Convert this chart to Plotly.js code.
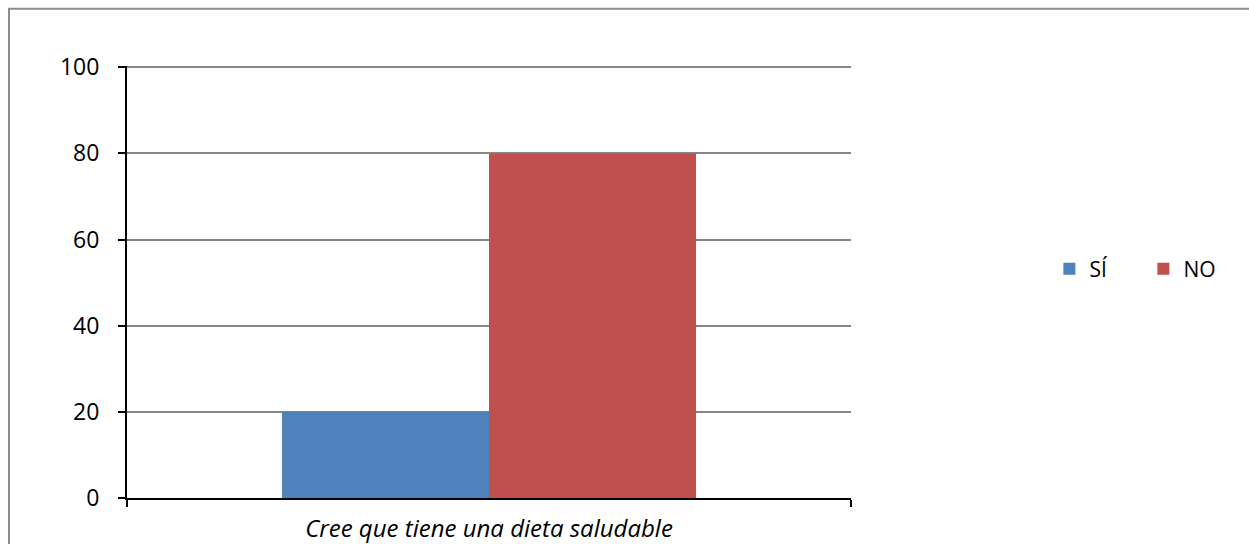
<!DOCTYPE html>
<html>
<head>
<meta charset="utf-8">
<script src="https://cdn.plot.ly/plotly-3.0.1.min.js"></script>
<style>
  html, body { margin: 0; padding: 0; background: #fff; }
  #chart { width: 1249px; height: 544px; }
</style>
</head>
<body>
<div id="chart"></div>
<script>
// Survey answers, in percent
const categories = ["Cree que tiene una dieta saludable"];
const seriesNames = ["SÍ", "NO"];
const siValues = [20];
const noValues = [80];
const yTicks = [0, 20, 40, 60, 80, 100];

const FONT = "'Open Sans', Lato, sans-serif";

const traces = [
  { type: "bar", name: seriesNames[0], x: categories, y: siValues,
    marker: { color: "#4F81BD" }, hoverinfo: "x+y+name" },
  { type: "bar", name: seriesNames[1], x: categories, y: noValues,
    marker: { color: "#C0504D" }, hoverinfo: "x+y+name" }
];

const layout = {
  width: 1249, height: 544,
  margin: { l: 127, r: 398, t: 66, b: 46, pad: 0 },
  paper_bgcolor: "#fff", plot_bgcolor: "#fff",
  font: { family: FONT, size: 23, color: "#000" },
  barmode: "group",
  bargap: 0.428,
  bargroupgap: 0,
  showlegend: true,
  legend: {
    orientation: "h",
    x: 1.274, xanchor: "left",
    y: 0.53, yanchor: "middle",
    font: { family: FONT, size: 21, color: "#000" },
    entrywidth: 49, entrywidthmode: "pixels",
    bgcolor: "rgba(0,0,0,0)"
  },
  xaxis: {
    type: "category",
    range: [-0.5, 0.5],
    showline: true, linecolor: "#000", linewidth: 2,
    ticks: "outside", tickson: "boundaries", ticklen: 7, tickwidth: 2, tickcolor: "#000",
    tickfont: { family: FONT, size: 24, style: "italic", color: "#000" },
    ticklabelstandoff: 8,
    showgrid: false, zeroline: false, fixedrange: true
  },
  yaxis: {
    // a hair above 100 so the top gridline is kept inside the plot
    range: [0, 100.3],
    tickvals: yTicks,
    ticktext: yTicks.map(String),
    showline: true, linecolor: "#000", linewidth: 2,
    ticks: "outside", ticklen: 7, tickwidth: 2, tickcolor: "#000",
    tickfont: { family: FONT, size: 23, color: "#000" },
    ticklabelstandoff: 14,
    showgrid: true, gridcolor: "#868686", gridwidth: 2,
    zeroline: false, fixedrange: true
  },
  shapes: [
    // chart area frame
    { type: "rect", xref: "paper", yref: "paper",
      x0: -0.163, x1: 1.56, y0: -0.12, y1: 1.1323,
      line: { color: "#8c8c8c", width: 2 }, fillcolor: "rgba(0,0,0,0)", layer: "below" }
  ]
};

Plotly.newPlot("chart", traces, layout, { displayModeBar: false, staticPlot: true });
</script>
</body>
</html>
